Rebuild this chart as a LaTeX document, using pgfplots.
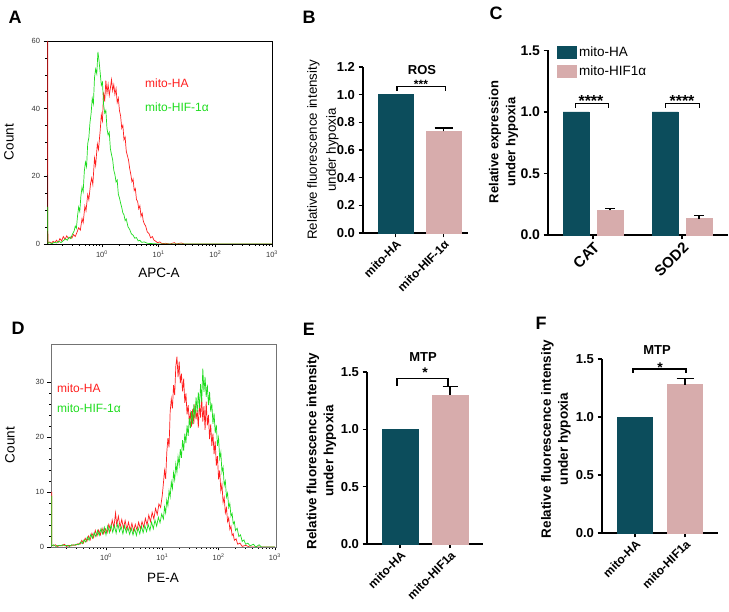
\documentclass[border=0pt]{standalone}
\usepackage{fontspec}
\setmainfont{Liberation Sans}
\usepackage{pgfplots}
\pgfplotsset{compat=1.18}

\definecolor{tealbar}{HTML}{0C4D5C}
\definecolor{pinkbar}{HTML}{D7ACAC}
\definecolor{fred}{HTML}{FF1E1E}
\definecolor{fgreen}{HTML}{1EDC1E}

\pgfplotsset{
  histax/.style={scale only axis, width=225pt, height=203pt,
    axis line style={line width=0.7pt}, tick align=outside, tick pos=left,
    xtick={0,1,2,3},
    xticklabels={10\textsuperscript{0},10\textsuperscript{1},10\textsuperscript{2},10\textsuperscript{3}},
    minor xtick={-0.699,-0.523,-0.398,-0.301,-0.222,-0.155,-0.097,-0.046,
      0.301,0.477,0.602,0.699,0.778,0.845,0.903,0.954,
      1.301,1.477,1.602,1.699,1.778,1.845,1.903,1.954,
      2.301,2.477,2.602,2.699,2.778,2.845,2.903,2.954},
    major tick length=3.5pt, minor tick length=2pt,
    every tick/.style={line width=0.6pt, black},
    tick label style={font=\fontsize{7.5}{9}\selectfont, text=black!80},
    /pgf/number format/assume math mode=true},
  barax/.style={scale only axis, axis x line*=bottom, axis y line*=left,
    axis line style={line width=1.2pt}, tick align=outside, major tick length=4.5pt,
    every tick/.style={line width=1.2pt, black}, ymin=0, xtick={0,1}, clip=false,
    /pgf/number format/assume math mode=true,
    yticklabel style={/tikz/font=\bfseries\fontsize{#1}{15}\selectfont,
      /pgf/number format/.cd, fixed, fixed zerofill, precision=1},
    xticklabel style={rotate=45, anchor=north east, font=\bfseries\fontsize{12}{14}\selectfont, inner sep=1pt}},
  barax/.default=13,
  errsty/.style={error bars/.cd, y dir=plus, y explicit,
    error bar style={line width=1.2pt, black},
    error mark options={rotate=90, mark size=#1, line width=1.2pt, black}}
}

\begin{document}
\begin{tikzpicture}
\useasboundingbox (0,0) rectangle (729pt,612pt);

% ---------------- Panel A ----------------
\begin{axis}[histax, at={(47pt,368pt)}, anchor=south west,
  xmin=-0.968, xmax=3.0, ymin=0, ymax=60, ytick={0,20,40,60}, minor y tick num=3]
\addplot[fred, line width=0.7pt] coordinates {
(-0.955,60)(-0.952,0.3)(-0.92,0.6)(-0.89,0.2)(-0.86,0.8)(-0.83,0.4)(-0.80,1.1)(-0.77,0.5)
(-0.74,1.6)(-0.71,0.9)(-0.68,2.2)(-0.65,1.4)(-0.62,2.4)(-0.59,1.6)(-0.56,2.1)(-0.53,1.7)
(-0.50,2.8)(-0.47,2.2)(-0.44,3.4)(-0.41,4.8)(-0.38,4.1)(-0.35,7.5)(-0.33,6.3)(-0.30,11.2)
(-0.28,9.8)(-0.25,14.6)(-0.23,13.1)(-0.20,17.8)(-0.18,19.5)(-0.16,17.6)(-0.13,25.4)(-0.11,23.2)
(-0.08,29.6)(-0.06,27.9)(-0.03,33.5)(-0.01,38.2)(0.01,36.4)(0.03,44.8)(0.05,42.1)(0.07,48.3)
(0.09,44.6)(0.11,47.2)(0.13,43.9)(0.15,46.1)(0.17,48.6)(0.19,45.3)(0.21,47.1)(0.23,44.2)
(0.25,45.9)(0.27,41.8)(0.29,43.1)(0.31,39.4)(0.33,37.9)(0.35,34.2)(0.37,35.1)(0.39,30.8)
(0.41,31.6)(0.43,27.4)(0.45,26.1)(0.47,24.8)(0.49,22.3)(0.51,20.6)(0.53,18.4)(0.55,19.2)
(0.57,15.8)(0.59,16.4)(0.61,13.1)(0.63,12.6)(0.65,10.4)(0.67,11.3)(0.69,8.2)(0.71,9.1)
(0.73,6.8)(0.75,5.9)(0.77,5.4)(0.80,3.6)(0.83,3.1)(0.86,1.8)(0.89,2.2)(0.92,1.1)
(0.95,0.8)(0.98,0.4)(1.02,0.6)(1.06,0.1)(1.12,0.2)(1.2,0)(1.28,0.4)(1.31,0)(1.4,0.3)(1.45,0)(1.6,0)(3.0,0)};
\addplot[fgreen, line width=0.7pt] coordinates {
(-0.955,11)(-0.952,0.2)(-0.92,0.4)(-0.88,0.1)(-0.84,0.5)(-0.80,0.3)(-0.76,0.8)(-0.72,0.4)
(-0.68,1.0)(-0.64,1.5)(-0.61,1.1)(-0.58,2.0)(-0.55,1.6)(-0.52,2.9)(-0.49,3.8)(-0.47,5.3)
(-0.45,4.6)(-0.43,8.2)(-0.41,10.9)(-0.39,9.6)(-0.37,14.2)(-0.35,16.8)(-0.33,15.4)(-0.31,21.5)
(-0.29,24.2)(-0.27,22.8)(-0.25,29.7)(-0.23,31.4)(-0.21,35.9)(-0.19,38.6)(-0.17,43.1)(-0.15,41.4)
(-0.13,49.2)(-0.11,51.7)(-0.09,50.3)(-0.07,56.8)(-0.05,54.1)(-0.03,50.6)(-0.01,46.9)(0.01,47.8)
(0.03,41.2)(0.05,38.7)(0.07,39.5)(0.09,34.1)(0.11,32.2)(0.13,33.0)(0.15,28.1)(0.17,26.4)
(0.19,24.9)(0.21,21.8)(0.23,20.5)(0.25,18.3)(0.27,18.9)(0.29,14.7)(0.31,13.6)(0.33,12.1)
(0.35,10.8)(0.37,9.2)(0.39,8.6)(0.41,6.9)(0.43,7.4)(0.46,5.1)(0.49,4.3)(0.52,3.0)
(0.55,2.6)(0.58,1.7)(0.61,1.9)(0.64,0.9)(0.67,1.1)(0.70,0.5)(0.75,0.6)(0.80,0.2)(0.9,0.1)(1.0,0)(3.0,0)};
\end{axis}

% ---------------- Panel D ----------------
\begin{axis}[histax, at={(51pt,65pt)}, anchor=south west, axis line style={line width=0.7pt, black!55},
  xmin=-0.977, xmax=3.02, ymin=0, ymax=36.9, ytick={0,10,20,30}, minor y tick num=4]
\addplot[fred, line width=0.7pt] coordinates {
(-0.965,10)(-0.962,0.3)(-0.93,0.2)(-0.9,0.4)(-0.86,0.1)(-0.82,0.3)(-0.78,0.2)(-0.74,0.5)
(-0.70,0.1)(-0.66,0.3)(-0.62,0.2)(-0.58,0.4)(-0.54,0.3)(-0.50,0.6)(-0.46,0.5)(-0.43,1.2)
(-0.40,0.7)(-0.37,1.6)(-0.34,1.0)(-0.31,2.0)(-0.28,1.3)(-0.25,2.5)(-0.22,1.7)(-0.19,3.0)
(-0.16,2.0)(-0.13,3.1)(-0.10,2.2)(-0.07,3.4)(-0.04,2.4)(-0.01,3.3)(0.02,2.6)(0.05,4.1)
(0.08,3.0)(0.11,4.9)(0.14,3.5)(0.17,6.2)(0.19,4.0)(0.22,5.6)(0.25,3.6)(0.28,5.0)
(0.31,3.4)(0.34,4.8)(0.37,3.2)(0.40,4.5)(0.43,3.0)(0.46,4.3)(0.49,2.9)(0.52,4.1)
(0.55,3.1)(0.58,4.5)(0.61,3.3)(0.64,4.6)(0.67,3.6)(0.70,5.2)(0.73,4.0)(0.76,5.8)
(0.79,4.6)(0.82,6.3)(0.85,5.1)(0.88,7.0)(0.91,5.9)(0.94,7.8)(0.97,7.2)(1.00,9.4)
(1.02,11.6)(1.04,13.9)(1.06,12.4)(1.08,17.2)(1.10,19.8)(1.12,18.1)(1.14,24.6)(1.16,26.9)
(1.18,25.2)(1.20,29.4)(1.22,27.6)(1.24,32.8)(1.26,34.6)(1.28,30.9)(1.30,33.7)(1.32,29.8)
(1.34,31.5)(1.36,28.3)(1.38,30.6)(1.40,26.2)(1.42,27.9)(1.44,24.1)(1.46,25.8)(1.48,22.7)
(1.50,24.3)(1.52,21.9)(1.54,25.1)(1.56,22.4)(1.58,26.0)(1.60,23.2)(1.62,24.9)(1.64,21.7)
(1.66,26.3)(1.68,23.5)(1.70,27.1)(1.72,22.8)(1.74,25.6)(1.76,21.3)(1.78,26.4)(1.80,22.1)
(1.82,24.0)(1.84,19.6)(1.86,22.3)(1.88,18.4)(1.90,20.6)(1.92,16.9)(1.94,19.2)(1.96,14.8)
(1.98,16.5)(2.00,12.3)(2.02,13.9)(2.04,10.2)(2.06,11.4)(2.08,8.1)(2.10,9.0)(2.12,6.2)
(2.14,7.1)(2.16,4.6)(2.18,5.3)(2.20,3.2)(2.22,3.8)(2.24,2.1)(2.26,2.4)(2.28,1.2)
(2.31,1.5)(2.34,0.5)(2.38,0.7)(2.42,0.1)(2.48,0.3)(2.55,0)(3.0,0)};
\addplot[fgreen, line width=0.7pt] coordinates {
(-0.965,9.3)(-0.962,0.2)(-0.93,0.4)(-0.89,0.1)(-0.85,0.3)(-0.81,0.2)(-0.77,0.4)(-0.73,0.2)
(-0.69,0.3)(-0.65,0.1)(-0.61,0.4)(-0.57,0.3)(-0.53,0.5)(-0.49,0.4)(-0.45,0.9)(-0.42,0.6)
(-0.39,1.3)(-0.36,0.9)(-0.33,1.8)(-0.30,1.2)(-0.27,2.3)(-0.24,1.6)(-0.21,2.6)(-0.18,1.9)
(-0.15,3.0)(-0.12,2.1)(-0.09,3.3)(-0.06,2.4)(-0.03,3.6)(0.00,2.2)(0.03,3.8)(0.06,2.6)
(0.09,4.0)(0.12,2.7)(0.15,3.9)(0.18,2.5)(0.21,4.2)(0.24,2.8)(0.27,3.7)(0.30,2.4)
(0.33,3.9)(0.36,2.6)(0.39,3.5)(0.42,2.3)(0.45,3.4)(0.48,2.2)(0.51,3.3)(0.54,2.1)
(0.57,3.5)(0.60,2.4)(0.63,3.8)(0.66,2.6)(0.69,3.9)(0.72,2.8)(0.75,4.1)(0.78,3.0)
(0.81,4.5)(0.84,3.3)(0.87,4.9)(0.90,3.8)(0.93,5.4)(0.96,4.4)(0.99,6.0)(1.02,5.1)
(1.04,7.3)(1.06,6.2)(1.08,8.6)(1.10,7.5)(1.12,10.2)(1.14,9.1)(1.16,11.8)(1.18,10.6)
(1.20,13.5)(1.22,12.2)(1.24,15.1)(1.26,13.6)(1.28,16.4)(1.30,14.9)(1.32,17.8)(1.34,16.2)
(1.36,19.4)(1.38,17.5)(1.40,20.6)(1.42,18.9)(1.44,22.1)(1.46,20.2)(1.48,23.4)(1.50,21.6)
(1.52,24.7)(1.54,22.3)(1.56,25.9)(1.58,23.4)(1.60,27.2)(1.62,24.5)(1.64,28.1)(1.66,25.3)
(1.68,29.6)(1.70,26.4)(1.72,32.4)(1.74,28.2)(1.76,30.9)(1.78,27.3)(1.80,29.5)(1.82,25.8)
(1.84,28.2)(1.86,24.6)(1.88,26.1)(1.90,22.4)(1.92,24.3)(1.94,20.7)(1.96,22.2)(1.98,18.4)
(2.00,19.8)(2.02,16.1)(2.04,17.2)(2.06,13.6)(2.08,14.5)(2.10,11.2)(2.12,12.0)(2.14,9.1)
(2.16,9.8)(2.18,7.2)(2.20,7.9)(2.22,5.6)(2.24,6.1)(2.26,4.2)(2.28,4.6)(2.30,3.0)
(2.33,3.4)(2.36,1.9)(2.39,2.2)(2.42,1.0)(2.45,1.3)(2.48,0.5)(2.52,0.7)(2.56,0.2)
(2.62,0.5)(2.66,0)(2.72,0.4)(2.76,0)(3.0,0)};
\end{axis}

% ---------------- Panel B ----------------
\begin{axis}[barax, at={(363pt,379pt)}, anchor=south west, width=105pt, height=166pt,
  xmin=-0.68, xmax=1.51, ymax=1.2, ytick={0,0.2,0.4,0.6,0.8,1.0,1.2},
  xticklabels={mito-HA,mito-HIF-1α}]
\addplot[ybar, bar width=35pt, bar shift=0pt, fill=tealbar, draw=tealbar] coordinates {(0,1.0)};
\addplot[ybar, bar width=35pt, bar shift=0pt, fill=pinkbar, draw=pinkbar, errsty=9pt] coordinates {(1,0.735) +- (0,0.024)};
\draw[line width=1.1pt] (axis cs:0.03,1.027) -- (axis cs:0.03,1.056) -- (axis cs:1.05,1.056) -- (axis cs:1.05,1.027);
\end{axis}

% ---------------- Panel C ----------------
\begin{axis}[barax=14, at={(548pt,377pt)}, anchor=south west, width=180pt, height=184.5pt,
  xmin=-0.506, xmax=1.517, ymax=1.5, ytick={0,0.5,1.0,1.5},
  ybar=8pt, bar width=26pt,
  xticklabels={CAT,SOD2},
  xticklabel style={font=\bfseries\fontsize{15}{17}\selectfont},
  legend style={at={(rel axis cs:0.05,1.03)}, anchor=north west, draw=none, fill=none,
    inner sep=0pt, font=\fontsize{13.5}{16}\selectfont, row sep=3pt},
  legend cell align=left,
  legend image code/.code={\fill[#1,draw=none] (0pt,-6.5pt) rectangle (20pt,6.5pt);}]
\addplot[fill=tealbar, draw=tealbar] coordinates {(0,1.0) (1,1.0)};
\addlegendentry{mito-HA}
\addplot[fill=pinkbar, draw=pinkbar, errsty=5pt] coordinates {(0,0.20) +- (0,0.015) (1,0.133) +- (0,0.027)};
\addlegendentry{mito-HIF1α}
\draw[line width=1.1pt] (axis cs:-0.20,1.035) -- (axis cs:-0.20,1.068) -- (axis cs:0.17,1.068) -- (axis cs:0.17,1.035);
\draw[line width=1.1pt] (axis cs:0.81,1.035) -- (axis cs:0.81,1.068) -- (axis cs:1.20,1.068) -- (axis cs:1.20,1.035);
\end{axis}

% ---------------- Panel E ----------------
\begin{axis}[barax, at={(367pt,68pt)}, anchor=south west, width=116pt, height=172pt,
  xmin=-0.66, xmax=1.66, ymax=1.5, ytick={0,0.5,1.0,1.5},
  xticklabels={mito-HA,mito-HIF1a}]
\addplot[ybar, bar width=36pt, bar shift=0pt, fill=tealbar, draw=tealbar] coordinates {(0,1.0)};
\addplot[ybar, bar width=36pt, bar shift=0pt, fill=pinkbar, draw=pinkbar, errsty=7.5pt] coordinates {(1,1.30) +- (0,0.075)};
\draw[line width=1.1pt] (axis cs:-0.06,1.378) -- (axis cs:-0.06,1.447) -- (axis cs:0.96,1.447) -- (axis cs:0.96,1.378);
\end{axis}

% ---------------- Panel F ----------------
\begin{axis}[barax, at={(602pt,79pt)}, anchor=south west, width=116pt, height=174pt,
  xmin=-0.66, xmax=1.66, ymax=1.5, ytick={0,0.5,1.0,1.5},
  xticklabels={mito-HA,mito-HIF1a}]
\addplot[ybar, bar width=35pt, bar shift=0pt, fill=tealbar, draw=tealbar] coordinates {(0,1.0)};
\addplot[ybar, bar width=35pt, bar shift=0pt, fill=pinkbar, draw=pinkbar, errsty=8.5pt] coordinates {(1,1.28) +- (0,0.055)};
\draw[line width=1.1pt] (axis cs:-0.04,1.38) -- (axis cs:-0.04,1.414) -- (axis cs:1.02,1.414) -- (axis cs:1.02,1.38);
\end{axis}

% ---------------- texts ----------------
\tikzset{letter/.style={font=\bfseries\fontsize{18}{20}\selectfont}}
\node[letter] at (15pt,595pt) {A};
\node[letter] at (309pt,595pt) {B};
\node[letter] at (496pt,599pt) {C};
\node[letter] at (18pt,284pt) {D};
\node[letter] at (309pt,283pt) {E};
\node[letter] at (541pt,289pt) {F};

\node[anchor=west, text=fred, font=\fontsize{12}{14}\selectfont, inner sep=0pt] at (145pt,529pt) {mito-HA};
\node[anchor=west, text=fgreen, font=\fontsize{12}{14}\selectfont, inner sep=0pt] at (145pt,505pt) {mito-HIF-1α};
\node[rotate=90, font=\fontsize{13.5}{15}\selectfont] at (9pt,470pt) {Count};
\node[font=\fontsize{13.5}{15}\selectfont] at (159pt,339pt) {APC-A};

\node[anchor=west, text=fred, font=\fontsize{12}{14}\selectfont, inner sep=0pt] at (57pt,224pt) {mito-HA};
\node[anchor=west, text=fgreen, font=\fontsize{12}{14}\selectfont, inner sep=0pt] at (57pt,204pt) {mito-HIF-1α};
\node[rotate=90, font=\fontsize{13.5}{15}\selectfont] at (10pt,167pt) {Count};
\node[font=\fontsize{13.5}{15}\selectfont] at (163pt,34pt) {PE-A};

\node[font=\bfseries\fontsize{13}{15}\selectfont] at (422pt,542pt) {ROS};
\node[font=\bfseries\fontsize{12}{14}\selectfont] at (421pt,528pt) {***};
\node[rotate=90, align=center, font=\fontsize{13.3}{19}\selectfont] at (323pt,462pt) {Relative fluorescence intensity\\under hypoxia};

\node[rotate=90, align=center, font=\bfseries\fontsize{13}{17}\selectfont] at (503.5pt,470pt) {Relative expression\\under hypoxia};
\node[font=\bfseries\fontsize{16}{18}\selectfont] at (591pt,511pt) {****};
\node[font=\bfseries\fontsize{16}{18}\selectfont] at (682pt,511pt) {****};

\node[font=\bfseries\fontsize{13}{15}\selectfont] at (423pt,255pt) {MTP};
\node[font=\bfseries\fontsize{14}{16}\selectfont] at (425pt,239pt) {*};
\node[rotate=90, align=center, font=\bfseries\fontsize{13.4}{17}\selectfont] at (321.5pt,161pt) {Relative fluorescence intensity\\under hypoxia};

\node[font=\bfseries\fontsize{13}{15}\selectfont] at (657pt,262pt) {MTP};
\node[font=\bfseries\fontsize{14}{16}\selectfont] at (660pt,244pt) {*};
\node[rotate=90, align=center, font=\bfseries\fontsize{13.5}{17}\selectfont] at (556pt,173pt) {Relative fluorescence intensity\\under hypoxia};
\end{tikzpicture}
\end{document}
